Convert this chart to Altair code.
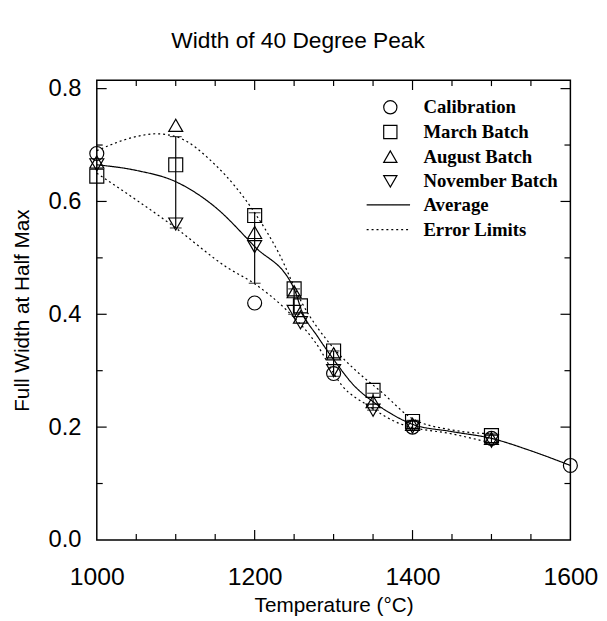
import altair as alt
import pandas as pd

# ---------------- data ----------------
series_names = ["Calibration", "March Batch", "August Batch", "November Batch"]

cal_T = [1000, 1200, 1300, 1400, 1500, 1600]
cal_W = [0.685, 0.420, 0.295, 0.200, 0.180, 0.132]

mar_T = [1000, 1100, 1200, 1250, 1258, 1300, 1350, 1400, 1500]
mar_W = [0.645, 0.665, 0.575, 0.445, 0.415, 0.335, 0.265, 0.210, 0.185]

aug_T = [1000, 1100, 1200, 1250, 1258, 1300, 1350, 1400, 1500]
aug_W = [0.670, 0.735, 0.545, 0.440, 0.395, 0.330, 0.245, 0.205, 0.180]

nov_T = [1000, 1100, 1200, 1250, 1258, 1300, 1350, 1400, 1500]
nov_W = [0.665, 0.560, 0.520, 0.405, 0.385, 0.300, 0.230, 0.200, 0.175]

avg_T = [1000, 1050, 1100, 1150, 1200, 1250, 1260, 1280, 1300, 1325, 1350, 1375, 1400, 1450, 1500, 1550, 1600]
avg_W = [0.665, 0.655, 0.635, 0.590, 0.520, 0.445, 0.405, 0.360, 0.320, 0.275, 0.245, 0.222, 0.205, 0.192, 0.180, 0.158, 0.132]

up_T = [1000, 1050, 1075, 1100, 1150, 1200, 1230, 1260, 1300, 1330, 1360, 1400, 1450, 1500]
up_W = [0.690, 0.715, 0.720, 0.715, 0.665, 0.580, 0.510, 0.420, 0.340, 0.298, 0.263, 0.215, 0.195, 0.188]

lo_T = [1000, 1100, 1165, 1200, 1240, 1277, 1311, 1344, 1386, 1450, 1500]
lo_W = [0.650, 0.553, 0.483, 0.454, 0.408, 0.350, 0.273, 0.238, 0.205, 0.188, 0.172]

err_T = [1100, 1200, 1250, 1300, 1350, 1400, 1500]
err_lo = [0.553, 0.455, 0.400, 0.290, 0.230, 0.195, 0.172]
err_hi = [0.715, 0.580, 0.445, 0.335, 0.260, 0.212, 0.188]

x_labels = [1000, 1200, 1400, 1600]
y_labels = [0.0, 0.2, 0.4, 0.6, 0.8]
x_major_ticks = [1200, 1400]
x_minor_ticks = [1050, 1100, 1150, 1250, 1300, 1350, 1450, 1500, 1550]
y_major_ticks = [0.2, 0.4, 0.6, 0.8]
y_minor_ticks = [0.1, 0.3, 0.5, 0.7]

# ---------------- tables ----------------
rows = []
for name, ts, ws in [(series_names[0], cal_T, cal_W), (series_names[1], mar_T, mar_W),
                     (series_names[2], aug_T, aug_W), (series_names[3], nov_T, nov_W)]:
    for t, w in zip(ts, ws):
        rows.append({"T": t, "W": w, "series": name})
df_pts = pd.DataFrame(rows)

lrows = []
for kind, part, ts, ws in [("Average", "avg", avg_T, avg_W), ("Error Limits", "up", up_T, up_W),
                           ("Error Limits", "lo", lo_T, lo_W)]:
    for t, w in zip(ts, ws):
        lrows.append({"T": t, "W": w, "kind": kind, "part": part})
df_lines = pd.DataFrame(lrows)

df_err = pd.DataFrame({"T": err_T, "W": err_lo, "hi": err_hi})

W, H = 480, 466
MAJ, MIN = 10, 6

xs = alt.Scale(domain=[1000, 1600], nice=False, zero=False)
ys = alt.Scale(domain=[0, 0.815], nice=False, zero=False)
SANS = "Liberation Sans"
SERIF = "Liberation Serif"

x_axis = alt.Axis(values=x_labels, format="d", title="Temperature (°C)",
                  ticks=False, domain=False, grid=False, labelFontSize=25, labelPadding=25,
                  titleFontSize=21, titlePadding=6, labelColor="black", titleColor="black",
                  titleFontWeight="normal", labelFont=SANS, titleFont=SANS, labelFlush=False)
y_axis = alt.Axis(values=y_labels, format=".1f", title="Full Width at Half Max",
                  ticks=False, domain=False, grid=False, labelFontSize=24, labelPadding=16,
                  titleFontSize=21, titlePadding=16, labelColor="black", titleColor="black",
                  titleFontWeight="normal", labelFont=SANS, titleFont=SANS, labelFlush=False)

X = alt.X("T:Q", scale=xs, axis=x_axis, title="Temperature (°C)")
Y = alt.Y("W:Q", scale=ys, axis=y_axis, title="Full Width at Half Max")

lines = alt.Chart(df_lines).mark_line(color="black", strokeWidth=1.2, interpolate="monotone").encode(
    x=X, y=Y,
    strokeDash=alt.StrokeDash("kind:N",
        scale=alt.Scale(domain=["Average", "Error Limits"], range=[[1, 0], [2, 3]]),
        legend=alt.Legend(title=None, orient="none", legendX=286, legendY=117,
                          symbolType="M-4,0H4", symbolSize=121, symbolStrokeColor="black",
                          symbolStrokeWidth=1.3, labelFont=SERIF,
                          labelFontWeight="bold", labelFontSize=19, labelColor="black",
                          labelOffset=26, rowPadding=5, padding=0)),
    detail="part:N",
)

err_rule = alt.Chart(df_err).mark_rule(color="black", strokeWidth=1.2).encode(
    x=X, y=Y, y2="hi:Q",
)
err_lo_tick = alt.Chart(df_err).mark_tick(color="black", orient="horizontal", size=12, thickness=1.2).encode(
    x=X, y=Y)
err_hi_tick = alt.Chart(df_err).transform_calculate(W="datum.hi").mark_tick(
    color="black", orient="horizontal", size=12, thickness=1.2).encode(x=X, y=Y)

points = alt.Chart(df_pts).mark_point(filled=False, color="black", size=200, strokeWidth=1.2, opacity=1).encode(
    x=X, y=Y,
    shape=alt.Shape("series:N",
        scale=alt.Scale(domain=series_names, range=["circle", "square", "triangle-up", "triangle-down"]),
        legend=alt.Legend(title=None, orient="none", legendX=288, legendY=18,
                          symbolSize=180, symbolStrokeColor="black", symbolStrokeWidth=1.2,
                          symbolFillColor="transparent",
                          labelFont=SERIF, labelFontWeight="bold", labelFontSize=19,
                          labelColor="black", labelOffset=24, rowPadding=5, padding=0)),
)

def xt(vals, length, top):
    d = pd.DataFrame({"T": vals})
    if top:
        enc = dict(y=alt.value(0), y2=alt.value(length))
    else:
        enc = dict(y=alt.value(H), y2=alt.value(H - length))
    return alt.Chart(d).mark_rule(color="black", strokeWidth=1.2).encode(x=X, **enc)

def yt(vals, length, right):
    d = pd.DataFrame({"W": vals})
    if right:
        enc = dict(x=alt.value(W), x2=alt.value(W - length))
    else:
        enc = dict(x=alt.value(0), x2=alt.value(length))
    return alt.Chart(d).mark_rule(color="black", strokeWidth=1.2).encode(y=Y, **enc)

ticks = [xt(x_major_ticks, MAJ, False), xt(x_minor_ticks, MIN, False),
         xt(x_major_ticks, MAJ, True), xt(x_minor_ticks, MIN, True),
         yt(y_major_ticks, MAJ, False), yt(y_minor_ticks, MIN, False),
         yt(y_major_ticks, MAJ, True), yt(y_minor_ticks, MIN, True)]

chart = alt.layer(lines, err_rule, err_lo_tick, err_hi_tick, points, *ticks).properties(
    width=W, height=H,
    background="white",
    title=alt.TitleParams("Width of 40 Degree Peak", font=SANS, fontSize=23, fontWeight="normal",
                          color="black", anchor="middle", dx=-36, offset=24),
    autosize=alt.AutoSizeParams(type="none"),
    padding={"left": 90, "top": 69, "right": 29, "bottom": 76},
).configure_view(stroke="black", strokeWidth=1.5)

chart.save("out.html", embed_options={"renderer": "svg", "actions": False})
